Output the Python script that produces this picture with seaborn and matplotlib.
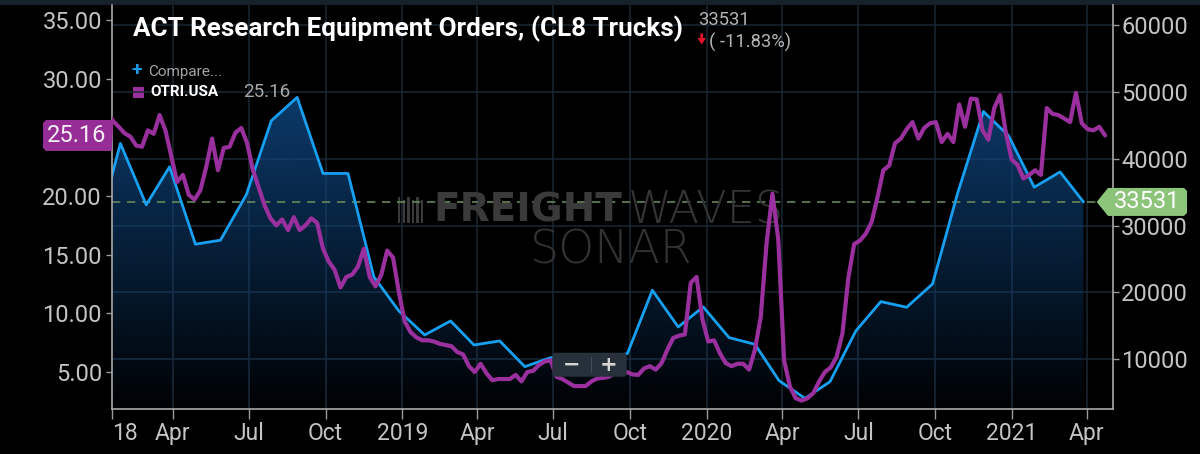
import numpy as np
import pandas as pd
import matplotlib
matplotlib.use("Agg")
import matplotlib.pyplot as plt
import matplotlib.dates as mdates
import matplotlib.ticker as mticker
import matplotlib.transforms as mtransforms
from matplotlib.patches import Polygon, FancyBboxPatch, Rectangle
import seaborn as sns

# ---------------- data ----------------
act_months = pd.date_range("2017-12-01", "2021-03-01", freq="MS") + pd.Timedelta(days=27)
act_orders = [27500,
              42300, 33100, 38800, 27200, 27800, 34600, 45700, 49200, 37800, 37800, 22300, 17200,
              13600, 15700, 12100, 12700, 8850, 10200, 10400, 10100, 10800, 20300, 14800, 17800,
              13200, 12200, 6750, 4100, 6600, 14200, 18600, 17750, 21240, 34800, 47080, 43500,
              35740, 38030, 33531]

otri_start = "2018-01-12"
otri_values = [27.0, 26.4, 25.9, 25.35, 25.06, 24.3, 24.2, 25.6, 25.3, 26.9,
               25.6, 23.4, 21.2, 21.8, 20.1, 19.7, 20.5, 22.5, 24.9, 22.2,
               24.1, 24.2, 25.4, 25.8, 24.5, 22.2, 20.7, 19.2, 18.1, 17.5,
               18.0, 17.1, 18.2, 17.1, 17.5, 18.1, 17.7, 15.5, 14.4, 13.7,
               12.2, 13.1, 13.3, 14.0, 15.5, 13.1, 12.3, 13.3, 15.35, 14.75,
               11.8, 9.3, 8.4, 7.95, 7.7, 7.7, 7.6, 7.4, 7.3, 7.2,
               6.7, 6.5, 5.5, 5.0, 5.7, 4.9, 4.3, 4.4, 4.4, 4.4,
               4.75, 4.2, 5.0, 5.1, 5.6, 5.9, 6.0, 4.6, 4.4, 4.1,
               3.8, 3.8, 3.8, 4.2, 4.45, 4.5, 4.6, 4.9, 5.2, 5.0,
               4.8, 4.75, 5.3, 5.5, 5.2, 5.75, 6.9, 7.9, 8.1, 8.2,
               12.6, 13.1, 9.5, 7.6, 7.7, 6.6, 5.75, 5.5, 5.7, 5.7,
               5.2, 6.9, 9.7, 16.0, 20.2, 16.3, 6.0, 3.75, 2.76, 2.56,
               2.76, 3.2, 4.2, 5.0, 5.4, 6.3, 8.3, 13.0, 15.9, 16.2,
               16.8, 17.8, 19.9, 22.2, 22.6, 24.5, 24.9, 25.7, 26.3, 24.9,
               25.8, 26.2, 26.3, 24.6, 25.3, 24.6, 27.8, 25.9, 28.3, 28.25,
               25.6, 24.8, 27.5, 28.6, 25.35, 23.1, 22.65, 21.5, 21.8, 22.2,
               21.8, 27.5, 27.0, 26.9, 26.6, 26.3, 28.8, 26.2, 25.7, 25.6,
               25.9, 25.16]
otri_dates = pd.date_range(otri_start, periods=len(otri_values), freq="7D")

left_ticks = [5, 10, 15, 20, 30, 35]   # 25.00 sits under the value tag
right_ticks = [10000, 20000, 30000, 40000, 50000, 60000]
x_tick_dates = ["2018-04-01", "2018-07-01", "2018-10-01", "2019-01-01", "2019-04-01",
                "2019-07-01", "2019-10-01", "2020-01-01", "2020-04-01", "2020-07-01",
                "2020-10-01", "2021-01-01", "2021-04-01"]
x_tick_labels = ["Apr", "Jul", "Oct", "2019", "Apr", "Jul", "Oct", "2020", "Apr", "Jul",
                 "Oct", "2021", "Apr"]
first_label = "18"
title = "ACT Research Equipment Orders, (CL8 Trucks)"
last_act = act_orders[-1]
last_otri = otri_values[-1]
change_pct = -11.83

# ---------------- styling ----------------
sns.set_theme(style="dark", rc={"axes.facecolor": "black", "figure.facecolor": "black"})
plt.rcParams["font.family"] = ["Roboto", "DejaVu Sans"]

W, H = 1200, 454
fig = plt.figure(figsize=(12, 4.54), dpi=100, facecolor="black")
pix = mtransforms.Affine2D().scale(1.0 / W, -1.0 / H).translate(0, 1) + fig.transFigure

L, R, T, B = 111.7, 1112.7, 4.8, 409.3
pos = [L / W, 1 - B / H, (R - L) / W, (B - T) / H]
ax_l = fig.add_axes(pos)
ax_r = ax_l.twinx()
ax_l.set_zorder(2)
ax_r.set_zorder(1)
ax_l.patch.set_visible(False)
ax_r.patch.set_facecolor("black")

xlim = (pd.Timestamp("2018-01-17 14:00"), pd.Timestamp("2021-05-02 02:00"))
ylim_l = (1.82, 36.3)
ylim_r = (2460, 63070)

grid_c = "#1c2834"
# right series (area + line)
ax_r.set_axisbelow(True)
ax_r.grid(True, axis="y", color=grid_c, lw=1.1)
for d in x_tick_dates:
    ax_r.axvline(pd.Timestamp(d), color=grid_c, lw=1.1, zorder=0.5)

poly = ax_r.fill_between(act_months, act_orders, ylim_r[0], facecolor="none", edgecolor="none")
n = 256
yy = np.linspace(ylim_r[0], ylim_r[1], n)
alpha = np.clip(0.03 + 0.80 * (yy - ylim_r[0]) / (max(act_orders) - ylim_r[0]), 0, 0.85)
grad = np.zeros((n, 1, 4))
grad[..., 0] = 14 / 255
grad[..., 1] = 70 / 255
grad[..., 2] = 128 / 255
grad[:, 0, 3] = alpha
x0n, x1n = mdates.date2num(xlim[0]), mdates.date2num(xlim[1])
im = ax_r.imshow(grad, extent=[x0n, x1n, ylim_r[0], ylim_r[1]], origin="lower",
                 aspect="auto", zorder=1, interpolation="bilinear")
im.set_clip_path(poly.get_paths()[0], ax_r.transData)

sns.lineplot(x=act_months, y=act_orders, ax=ax_r, color="#17a0f2", lw=2.0, zorder=3)
ax_r.axhline(last_act, color="#66875a", lw=1.2, ls=(0, (5, 4)), zorder=2.5)

# left series
sns.lineplot(x=otri_dates, y=otri_values, ax=ax_l, color="#9a2f9e", lw=3.0, zorder=4)

# axes limits / ticks
for a in (ax_l, ax_r):
    a.set_xlim(*xlim)
    a.set_xlabel("")
    a.set_ylabel("")
ax_l.set_ylim(*ylim_l)
ax_r.set_ylim(*ylim_r)

ax_l.set_yticks(left_ticks)
ax_l.yaxis.set_major_formatter(mticker.FormatStrFormatter("%.2f"))
ax_r.set_yticks(right_ticks)
ax_r.yaxis.set_major_formatter(mticker.FuncFormatter(lambda v, p: f"{int(v)}"))

xt = [xlim[0]] + [pd.Timestamp(d) for d in x_tick_dates]
ax_l.set_xticks(xt)
ax_l.set_xticklabels([first_label] + x_tick_labels)
ax_l.get_xticklabels()[0].set_ha("left")
ax_l.xaxis.get_major_ticks()[0].tick1line.set_visible(False)

lab_c = "#c4c4c4"
tick_c = "#9a9a9a"
ax_l.tick_params(axis="x", length=7, width=1, color=tick_c, labelcolor=lab_c, labelsize=16.5, pad=2,
                 bottom=True)
ax_l.tick_params(axis="y", length=4, width=1, color=tick_c, labelcolor=lab_c, labelsize=17, pad=3,
                 left=True)
ax_r.tick_params(axis="y", length=4, width=1, color=tick_c, labelcolor=lab_c, labelsize=17, pad=2,
                 right=True)
ax_l.grid(False)

for s in ["top", "right"]:
    ax_l.spines[s].set_visible(False)
for s in ["top", "left", "bottom"]:
    ax_r.spines[s].set_visible(False)
for sp in (ax_l.spines["left"], ax_l.spines["bottom"], ax_r.spines["right"]):
    sp.set_visible(True)
    sp.set_color("#a8a8a8")
    sp.set_linewidth(1.2)

# ---------------- decorations ----------------
fig.add_artist(Rectangle((0, 0), W, 4.5, transform=pix, facecolor="#17212b", edgecolor="none"))

# watermark
fig.text(433 / W, 1 - 211 / H, "FREIGHT", color="#3a3a3a", fontsize=28, fontweight="heavy",
         family="DejaVu Sans", ha="left", va="center", zorder=1)
fig.text(628 / W, 1 - 211 / H, "WAVES", color="#353535", fontsize=32, fontweight="light",
         family="DejaVu Sans", ha="left", va="center", zorder=1)
fig.text(611 / W, 1 - 250 / H, "SONAR", color="#333333", fontsize=33, fontweight="light",
         family="DejaVu Sans", ha="center", va="center", zorder=1)
for i in range(6):
    fig.add_artist(Rectangle((398 + i * 4.6, 197 + (i % 2) * 3), 2.4, 26 - (i % 2) * 3, transform=pix,
                             facecolor="#3a3a3a", edgecolor="none", zorder=1))

# title and header
fig.text(133 / W, 1 - 29 / H, title, color="white", fontsize=18.7, fontweight="bold",
         family=["Roboto", "DejaVu Sans"], ha="left", va="center")
fig.text(698 / W, 1 - 20 / H, f"{last_act}", color="#b4b4b4", fontsize=13.2, ha="left", va="center")
fig.text(709 / W, 1 - 42 / H, f"( {change_pct:.2f}%)", color="#b4b4b4", fontsize=13.2,
         ha="left", va="center")
fig.add_artist(Polygon([(700.3, 33.5), (703.1, 33.5), (703.1, 38), (706, 38), (701.7, 44.5), (697.4, 38),
                        (700.3, 38)], closed=True, transform=pix, facecolor="#e5142b", edgecolor="none"))

# legend
fig.text(137 / W, 1 - 70.5 / H, "+", color="#1e98e4", fontsize=14, fontweight="bold",
         ha="center", va="center")
fig.text(148 / W, 1 - 72 / H, "Compare...", color="#a4a4a4", fontsize=11, ha="left", va="center")
fig.add_artist(Rectangle((132.5, 86.5), 11, 11, transform=pix, facecolor="#9a2f9e", edgecolor="none"))
fig.text(150 / W, 1 - 92 / H, "OTRI.USA", color="white", fontsize=11, fontweight="bold",
         ha="left", va="center")
fig.text(243 / W, 1 - 92 / H, f"{last_otri:.2f}", color="#a8a8a8", fontsize=13.5, ha="left", va="center")

# zoom buttons
fig.add_artist(FancyBboxPatch((552.3, 352.7), 74.4, 24, boxstyle="round,pad=0,rounding_size=3",
                              transform=pix, facecolor="#26313b", edgecolor="none", zorder=5))
fig.add_artist(Rectangle((591.3, 356.5), 0.8, 16.5, transform=pix, facecolor="#3f4b57",
                         edgecolor="none", zorder=6))
fig.text(571.5 / W, 1 - 365 / H, "\u2212", color="#d6d6d6", fontsize=15, fontweight="bold",
         family="DejaVu Sans", ha="center", va="center", zorder=7)
fig.text(609 / W, 1 - 365 / H, "+", color="#d6d6d6", fontsize=15, fontweight="bold",
         family="DejaVu Sans", ha="center", va="center", zorder=7)

# value tags
yl = H - ax_l.get_yaxis_transform().transform((0, last_otri))[1]
fig.add_artist(Polygon([(46, yl - 15.5), (111.7, yl - 15.5), (114.5, yl - 18), (113.2, yl - 12),
                        (111.7, yl + 15.5), (46, yl + 15.5), (43, yl + 12.5), (43, yl - 12.5)],
                       closed=True, transform=pix, facecolor="#962d96", edgecolor="none", zorder=6))
fig.text(77 / W, 1 - yl / H, f"{last_otri:.2f}", color="#f4eef4", fontsize=17, ha="center",
         va="center", zorder=7)

yr = H - ax_r.get_yaxis_transform().transform((0, last_act))[1]
fig.add_artist(Polygon([(1096.7, yr), (1108, yr - 14), (1184, yr - 14), (1187, yr - 11),
                        (1187, yr + 11), (1184, yr + 14), (1108, yr + 14)],
                       closed=True, transform=pix, facecolor="#8cc47a", edgecolor="none", zorder=6))
fig.text(1147 / W, 1 - yr / H, f"{last_act}", color="white", fontsize=17, ha="center",
         va="center", zorder=7)

fig.savefig("out.png", dpi=100, facecolor="black")
